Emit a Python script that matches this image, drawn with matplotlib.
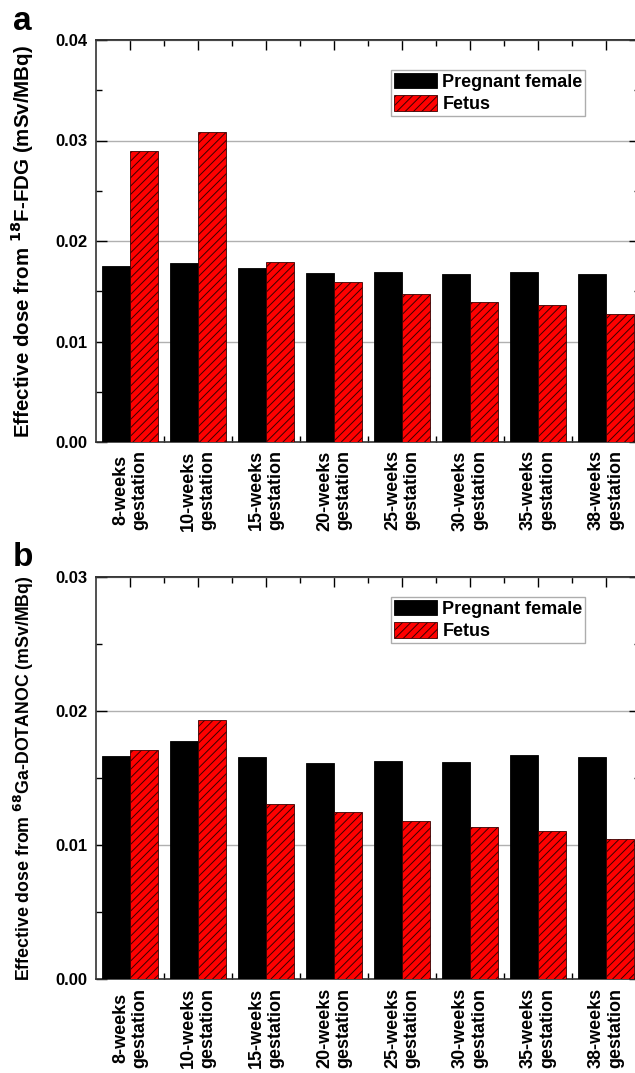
import matplotlib
matplotlib.use("Agg")
import matplotlib.pyplot as plt
from matplotlib.ticker import MultipleLocator, FixedLocator
import numpy as np

plt.rcParams['font.family'] = ['Liberation Sans', 'DejaVu Sans']
plt.rcParams['font.weight'] = 'bold'
plt.rcParams['hatch.linewidth'] = 0.7

# gestation stages shown on both panels
stages = ['8-weeks\ngestation', '10-weeks\ngestation', '15-weeks\ngestation',
          '20-weeks\ngestation', '25-weeks\ngestation', '30-weeks\ngestation',
          '35-weeks\ngestation', '38-weeks\ngestation']

# panel a: 18F-FDG
fdg_female = [0.01756, 0.01779, 0.01727, 0.01683, 0.01687, 0.01670, 0.01690, 0.01673]
fdg_fetus = [0.0290, 0.03081, 0.01789, 0.0159, 0.01474, 0.01398, 0.01362, 0.01272]

# panel b: 68Ga-DOTANOC
ga_female = [0.01665, 0.01774, 0.01658, 0.01616, 0.01628, 0.01620, 0.01672, 0.01660]
ga_fetus = [0.01713, 0.01933, 0.01308, 0.01246, 0.01184, 0.01132, 0.01104, 0.01047]

W, H = 635, 1073
fig = plt.figure(figsize=(W / 100, H / 100), dpi=100)


def draw_panel(rect, female, fetus, ymax, ylabel, ylabel_size, leg_top):
    ax = fig.add_axes(rect)
    x = np.arange(1, len(stages) + 1)
    bw = 0.41
    ax.bar(x - bw / 2, female, bw, color='black', edgecolor='black',
           linewidth=0.6, label='Pregnant female', zorder=3)
    ax.bar(x + bw / 2, fetus, bw, color='#ff0000', edgecolor='#3a0000',
           linewidth=0.6, hatch='////', label='Fetus', zorder=3)
    ax.set_xlim(0.5, len(stages) + 0.5)
    ax.set_ylim(0, ymax)

    ax.yaxis.set_major_locator(MultipleLocator(0.01))
    ax.yaxis.set_minor_locator(MultipleLocator(0.005))
    ax.set_yticklabels(['%.2f' % v for v in ax.get_yticks()])
    ax.yaxis.grid(True, color='#b0b0b0', linewidth=1.0, zorder=0)

    ax.set_xticks(x)
    ax.set_xticklabels(stages, rotation=90, fontsize=13, fontweight='bold',
                       linespacing=1.15)
    ax.xaxis.set_minor_locator(FixedLocator(x[:-1] + 0.5))

    ax.tick_params(axis='y', which='major', direction='in', length=8,
                   width=1.0, labelsize=12, right=True, pad=6)
    ax.tick_params(axis='y', which='minor', direction='in', length=4,
                   width=1.0, right=True)
    ax.tick_params(axis='x', which='major', direction='in', length=0, pad=6)
    ax.tick_params(axis='x', which='minor', direction='in', length=4,
                   width=1.0)

    # top axis: long ticks at group centres, short ones between groups
    top = ax.secondary_xaxis('top')
    top.set_xticks(x)
    top.xaxis.set_minor_locator(FixedLocator(x[:-1] + 0.5))
    top.tick_params(which='major', direction='in', length=7, width=1.0,
                    labeltop=False)
    top.tick_params(which='minor', direction='in', length=4, width=1.0)
    top.spines['top'].set_linewidth(1.2)
    top.spines['top'].set_color('#333333')

    for lbl in ax.get_yticklabels():
        lbl.set_fontweight('bold')
    for side in ['left', 'right', 'top', 'bottom']:
        ax.spines[side].set_linewidth(1.2)
        ax.spines[side].set_color('#333333')

    ax.set_ylabel(ylabel, fontsize=ylabel_size, fontweight='bold')
    ax.yaxis.set_label_coords(-0.110, 0.5)
    leg = ax.legend(loc='upper left', bbox_to_anchor=(0.542, leg_top),
                    borderaxespad=0, fontsize=13, frameon=True, fancybox=False,
                    edgecolor='#999999', handlelength=2.4, handleheight=0.95,
                    labelspacing=0.25, borderpad=0.15, handletextpad=0.3)
    leg.get_frame().set_linewidth(1.0)
    for t in leg.get_texts():
        t.set_fontweight('bold')
    return ax


ax_a = draw_panel([96 / W, 1 - 442 / H, 544 / W, 402 / H], fdg_female, fdg_fetus,
                  0.04, 'Effective dose from $\\mathbf{^{18}}$F-FDG (mSv/MBq)',
                  14.8, 0.925)
ax_b = draw_panel([96 / W, 1 - 979.3 / H, 544 / W, 402.3 / H], ga_female, ga_fetus,
                  0.03, 'Effective dose from $\\mathbf{^{68}}$Ga-DOTANOC (mSv/MBq)',
                  12.8, 0.950)

fig.text(13 / W, 1 - 30 / H, 'a', fontsize=24, fontweight='bold')
fig.text(13 / W, 1 - 566 / H, 'b', fontsize=24, fontweight='bold')

fig.savefig('out.png', dpi=100)
